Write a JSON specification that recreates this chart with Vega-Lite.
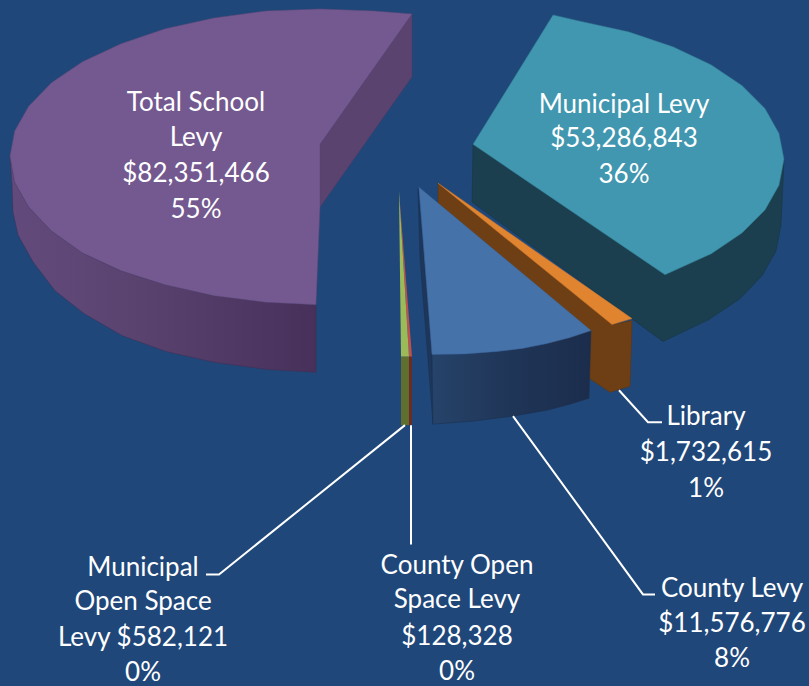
{"$schema":"https://vega.github.io/schema/vega-lite/v6.json","autosize":{"type":"fit","contains":"padding"},"width":809,"height":686,"padding":0,"background":"#1f4779","view":{"stroke":null},
"data":{"values":[
{"part":"schoolWall","x":10,"y":157},{"part":"schoolWall","x":14.7,"y":183},{"part":"schoolWall","x":28.7,"y":208},{"part":"schoolWall","x":51.5,"y":232},{"part":"schoolWall","x":82.5,"y":254},{"part":"schoolWall","x":121,"y":272},{"part":"schoolWall","x":165,"y":286},{"part":"schoolWall","x":214,"y":297},{"part":"schoolWall","x":266,"y":303.7},{"part":"schoolWall","x":316,"y":306},{"part":"schoolWall","x":316,"y":374},{"part":"schoolWall","x":267,"y":371},{"part":"schoolWall","x":215,"y":364},{"part":"schoolWall","x":166,"y":353},{"part":"schoolWall","x":122,"y":337},{"part":"schoolWall","x":84,"y":315},{"part":"schoolWall","x":55,"y":292},{"part":"schoolWall","x":33,"y":263},{"part":"schoolWall","x":18,"y":236},{"part":"schoolWall","x":13,"y":213},{"part":"schoolWall","x":12,"y":185},{"part":"schoolWall","x":10,"y":157},
{"part":"schoolCut","x":412,"y":14},{"part":"schoolCut","x":412,"y":77},{"part":"schoolCut","x":320,"y":208},{"part":"schoolCut","x":320,"y":145},{"part":"schoolCut","x":412,"y":14},
{"part":"schoolTop","x":412,"y":14},{"part":"schoolTop","x":374,"y":11},{"part":"schoolTop","x":320,"y":9},{"part":"schoolTop","x":266,"y":11},{"part":"schoolTop","x":214,"y":18},{"part":"schoolTop","x":165,"y":29},{"part":"schoolTop","x":121,"y":44},{"part":"schoolTop","x":82.5,"y":62},{"part":"schoolTop","x":51.5,"y":83},{"part":"schoolTop","x":28.7,"y":106.7},{"part":"schoolTop","x":14.7,"y":131.7},{"part":"schoolTop","x":10,"y":157},{"part":"schoolTop","x":14.7,"y":183},{"part":"schoolTop","x":28.7,"y":208},{"part":"schoolTop","x":51.5,"y":232},{"part":"schoolTop","x":82.5,"y":254},{"part":"schoolTop","x":121,"y":272},{"part":"schoolTop","x":165,"y":286},{"part":"schoolTop","x":214,"y":297},{"part":"schoolTop","x":266,"y":303.7},{"part":"schoolTop","x":316,"y":306},{"part":"schoolTop","x":320,"y":208},{"part":"schoolTop","x":320,"y":145},{"part":"schoolTop","x":412,"y":14},
{"part":"municipalWall","x":473,"y":145},{"part":"municipalWall","x":784,"y":160},{"part":"municipalWall","x":781,"y":226},{"part":"municipalWall","x":776,"y":252},{"part":"municipalWall","x":762,"y":277},{"part":"municipalWall","x":740,"y":300},{"part":"municipalWall","x":709,"y":321},{"part":"municipalWall","x":663,"y":343},{"part":"municipalWall","x":472,"y":203},{"part":"municipalWall","x":473,"y":145},
{"part":"municipalTop","x":553,"y":15},{"part":"municipalTop","x":579,"y":21},{"part":"municipalTop","x":628.5,"y":32},{"part":"municipalTop","x":673,"y":47},{"part":"municipalTop","x":711,"y":65},{"part":"municipalTop","x":742,"y":86},{"part":"municipalTop","x":765,"y":109},{"part":"municipalTop","x":779,"y":134},{"part":"municipalTop","x":784,"y":160},{"part":"municipalTop","x":779,"y":186},{"part":"municipalTop","x":765,"y":211},{"part":"municipalTop","x":742,"y":234},{"part":"municipalTop","x":711,"y":255},{"part":"municipalTop","x":665,"y":276},{"part":"municipalTop","x":473,"y":145},{"part":"municipalTop","x":553,"y":15},
{"part":"libraryWall","x":438,"y":184},{"part":"libraryWall","x":613,"y":326},{"part":"libraryWall","x":632,"y":322},{"part":"libraryWall","x":630,"y":388},{"part":"libraryWall","x":610,"y":394},{"part":"libraryWall","x":589,"y":380},{"part":"libraryWall","x":500,"y":300},{"part":"libraryWall","x":438,"y":205},{"part":"libraryWall","x":438,"y":184},
{"part":"libraryTop","x":438,"y":184},{"part":"libraryTop","x":632,"y":320},{"part":"libraryTop","x":612,"y":326},{"part":"libraryTop","x":438,"y":184},
{"part":"countyLeft","x":418,"y":189},{"part":"countyLeft","x":420,"y":260},{"part":"countyLeft","x":433,"y":426},{"part":"countyLeft","x":432,"y":356},{"part":"countyLeft","x":418,"y":189},
{"part":"countyFront","x":432,"y":356},{"part":"countyFront","x":465,"y":355.5},{"part":"countyFront","x":497,"y":353},{"part":"countyFront","x":522,"y":350},{"part":"countyFront","x":547,"y":345},{"part":"countyFront","x":570,"y":339},{"part":"countyFront","x":591,"y":332},{"part":"countyFront","x":589,"y":400},{"part":"countyFront","x":570,"y":406},{"part":"countyFront","x":547,"y":412},{"part":"countyFront","x":513,"y":418},{"part":"countyFront","x":473,"y":423},{"part":"countyFront","x":433,"y":426},{"part":"countyFront","x":432,"y":356},
{"part":"countyTop","x":419,"y":188},{"part":"countyTop","x":591,"y":332},{"part":"countyTop","x":570,"y":339},{"part":"countyTop","x":547,"y":345},{"part":"countyTop","x":522,"y":350},{"part":"countyTop","x":497,"y":353},{"part":"countyTop","x":465,"y":355.5},{"part":"countyTop","x":432,"y":356},{"part":"countyTop","x":419,"y":188},
{"part":"openRedWall","x":409,"y":358},{"part":"openRedWall","x":412,"y":358},{"part":"openRedWall","x":412,"y":427},{"part":"openRedWall","x":409,"y":427},{"part":"openRedWall","x":409,"y":358},
{"part":"openRedTop","x":399,"y":192},{"part":"openRedTop","x":412,"y":358},{"part":"openRedTop","x":409,"y":358},{"part":"openRedTop","x":399,"y":192},
{"part":"openGreenWall","x":401,"y":358},{"part":"openGreenWall","x":409,"y":358},{"part":"openGreenWall","x":409,"y":427},{"part":"openGreenWall","x":401,"y":427},{"part":"openGreenWall","x":401,"y":358},
{"part":"openGreenTop","x":399,"y":192},{"part":"openGreenTop","x":409,"y":358},{"part":"openGreenTop","x":401,"y":358},{"part":"openGreenTop","x":399,"y":192}
]},
"encoding":{"x":{"field":"x","type":"quantitative","scale":{"domain":[0,809]},"axis":null},"y":{"field":"y","type":"quantitative","scale":{"domain":[686,0]},"axis":null},"order":{"value":null}},
"layer":[
{"transform":[{"filter":{"field":"part","equal":"schoolWall"}}],"mark":{"type":"line","strokeWidth":0.5,"stroke":"#3f2f55","fill":{"gradient":"linear","x1":0,"x2":1,"y1":0,"y2":0,"stops":[{"offset":0,"color":"#624a7c"},{"offset":0.4,"color":"#5b4370"},{"offset":1,"color":"#47305a"}]}}},
{"transform":[{"filter":{"field":"part","equal":"schoolCut"}}],"mark":{"type":"line","strokeWidth":0.5,"stroke":"#4f3b66","fill":"#5b4370"}},
{"transform":[{"filter":{"field":"part","equal":"schoolTop"}}],"mark":{"type":"line","strokeWidth":0.5,"stroke":"#5f4878","fill":"#73598f"}},
{"transform":[{"filter":{"field":"part","equal":"municipalWall"}}],"mark":{"type":"line","strokeWidth":0.5,"stroke":"#173543","fill":"#1b3f4e"}},
{"transform":[{"filter":{"field":"part","equal":"municipalTop"}}],"mark":{"type":"line","strokeWidth":0.5,"stroke":"#327a91","fill":"#4196b0"}},
{"transform":[{"filter":{"field":"part","equal":"libraryWall"}}],"mark":{"type":"line","strokeWidth":0.5,"stroke":"#5a3412","fill":"#6e3f14"}},
{"transform":[{"filter":{"field":"part","equal":"libraryTop"}}],"mark":{"type":"line","strokeWidth":0.5,"stroke":"#c9772c","fill":"#e0842f"}},
{"transform":[{"filter":{"field":"part","equal":"countyLeft"}}],"mark":{"type":"line","strokeWidth":0.5,"stroke":"#1b3152","fill":"#1d3659"}},
{"transform":[{"filter":{"field":"part","equal":"countyFront"}}],"mark":{"type":"line","strokeWidth":0.5,"stroke":"#1b2f4f","fill":{"gradient":"linear","x1":0,"x2":1,"y1":0,"y2":0,"stops":[{"offset":0,"color":"#264369"},{"offset":0.5,"color":"#1f3557"},{"offset":1,"color":"#1c2d4c"}]}}},
{"transform":[{"filter":{"field":"part","equal":"countyTop"}}],"mark":{"type":"line","strokeWidth":0.5,"stroke":"#3d659a","fill":"#4572a9"}},
{"transform":[{"filter":{"field":"part","equal":"openRedWall"}}],"mark":{"type":"line","strokeWidth":0,"fill":"#6b2b28"}},
{"transform":[{"filter":{"field":"part","equal":"openRedTop"}}],"mark":{"type":"line","strokeWidth":0,"fill":"#c0504d"}},
{"transform":[{"filter":{"field":"part","equal":"openGreenWall"}}],"mark":{"type":"line","strokeWidth":0,"fill":"#606f2d"}},
{"transform":[{"filter":{"field":"part","equal":"openGreenTop"}}],"mark":{"type":"line","strokeWidth":0,"fill":"#9bbb59"}},
{"data":{"values":[
{"leader":"library","x":619,"y":392},{"leader":"library","x":648,"y":424},{"leader":"library","x":662,"y":424},
{"leader":"county","x":513,"y":418},{"leader":"county","x":643,"y":597},{"leader":"county","x":655,"y":597},
{"leader":"countyOpen","x":411,"y":427},{"leader":"countyOpen","x":411,"y":547},
{"leader":"municipalOpen","x":405,"y":427},{"leader":"municipalOpen","x":219,"y":577},{"leader":"municipalOpen","x":206,"y":577}
]},"mark":{"type":"line","color":"#ffffff","strokeWidth":2},"encoding":{"detail":{"field":"leader"}}},
{"data":{"values":[
{"text":"Total School","x":196,"y":103},{"text":"Levy","x":196,"y":139},{"text":"$82,351,466","x":196,"y":175},{"text":"55%","x":196,"y":211},
{"text":"Municipal Levy","x":624,"y":105},{"text":"$53,286,843","x":624,"y":140},{"text":"36%","x":624,"y":176},
{"text":"Library","x":706,"y":419},{"text":"$1,732,615","x":706,"y":455},{"text":"1%","x":706,"y":491},
{"text":"County Levy","x":732,"y":592},{"text":"$11,576,776","x":732,"y":627},{"text":"8%","x":732,"y":662},
{"text":"County Open","x":457,"y":568},{"text":"Space Levy","x":457,"y":603},{"text":"$128,328","x":457,"y":640},{"text":"0%","x":457,"y":675},
{"text":"Municipal","x":143,"y":570},{"text":"Open Space","x":143,"y":605},{"text":"Levy $582,121","x":143,"y":641},{"text":"0%","x":143,"y":676}
]},"mark":{"type":"text","font":"Lato","fontSize":26,"color":"#ffffff","align":"center","baseline":"middle"},"encoding":{"text":{"field":"text"},"order":{"value":null}}}
]}
